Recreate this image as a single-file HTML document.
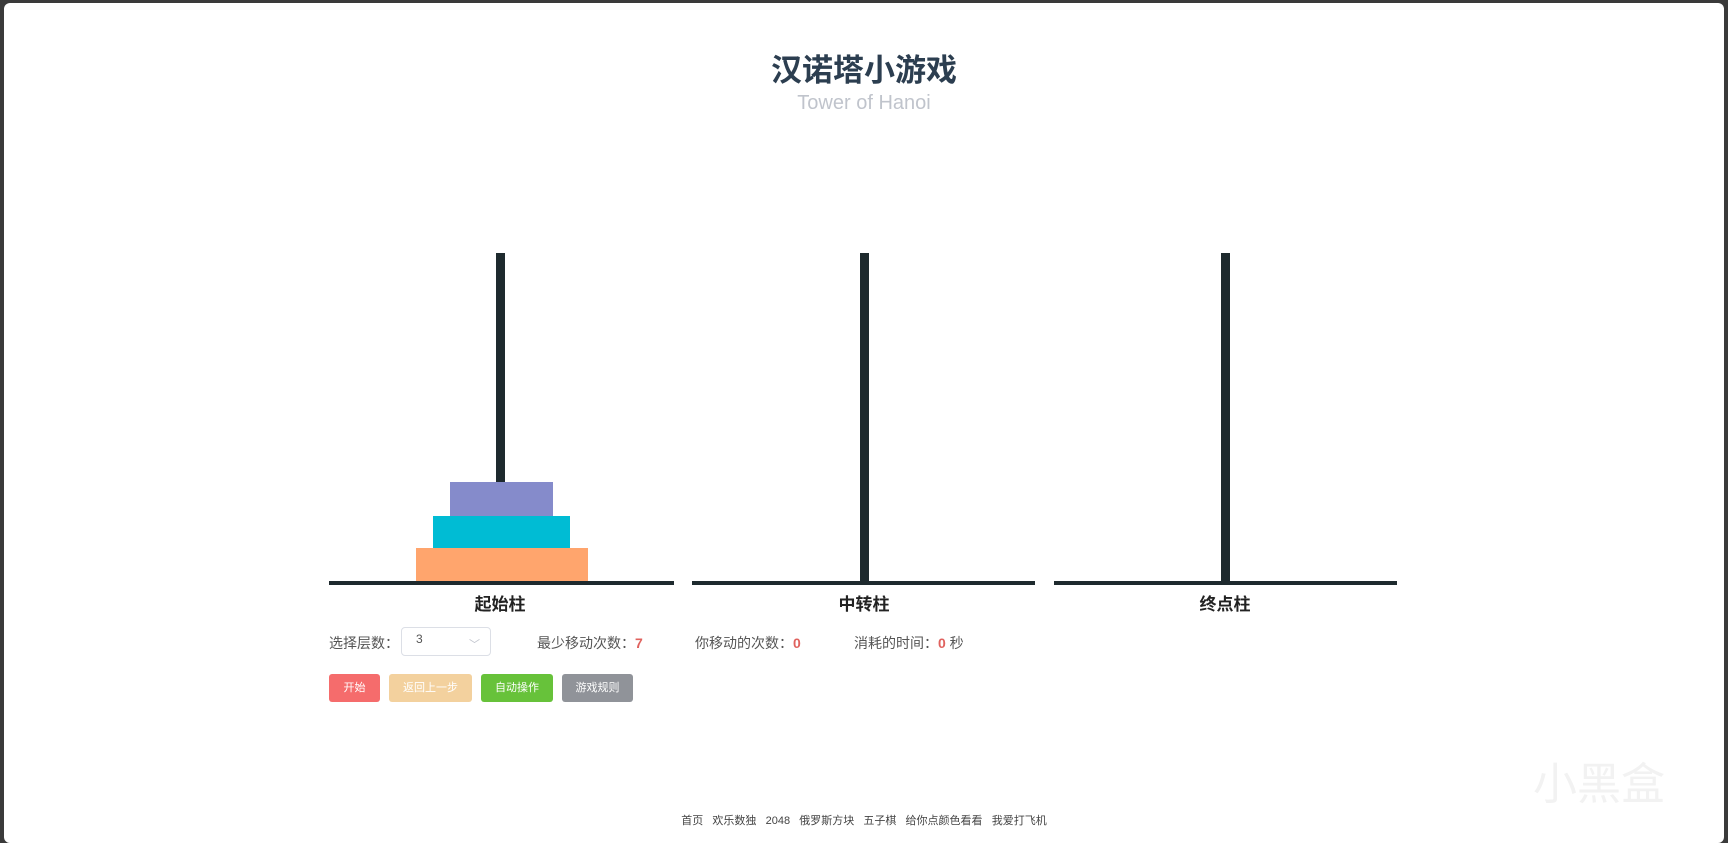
<!DOCTYPE html>
<html><head><meta charset="utf-8"><style>
html,body{margin:0;padding:0;width:1728px;height:835px;background:#3a3a3a;overflow:hidden}
#w{position:absolute;left:4px;top:3px;width:1720px;height:840px;background:#fff;border-radius:6px}
.p{position:absolute;background:#1e2a2e}
.t{position:absolute;white-space:nowrap;font-family:"Liberation Sans","Noto Sans CJK SC",sans-serif}
.b{position:absolute;top:674px;height:28px;border-radius:3px;color:#fff;font-size:11px;line-height:28px;text-align:center;font-family:"Liberation Sans","Noto Sans CJK SC",sans-serif}
</style></head><body>
<div id="w"></div>
<div class="t" style="left:0;width:1728px;text-align:center;top:45px;font-size:31px;font-weight:bold;color:#2c3e50">汉诺塔小游戏</div>
<div class="t" style="left:0;width:1728px;text-align:center;top:92px;font-size:20px;color:#c0c4cc">Tower of Hanoi</div>

<div class="p" style="left:496px;top:253px;width:9px;height:330px"></div>
<div class="p" style="left:860px;top:253px;width:9px;height:330px"></div>
<div class="p" style="left:1221px;top:253px;width:9px;height:330px"></div>
<div class="p" style="left:329px;top:581px;width:345px;height:4px"></div>
<div class="p" style="left:692px;top:581px;width:343px;height:4px"></div>
<div class="p" style="left:1054px;top:581px;width:343px;height:4px"></div>

<div style="position:absolute;left:450px;top:482px;width:103px;height:34px;background:#858bcb"></div>
<div style="position:absolute;left:433px;top:516px;width:137px;height:32px;background:#00bcd4"></div>
<div style="position:absolute;left:416px;top:548px;width:172px;height:33px;background:#ffa56d"></div>

<div class="t" style="left:400px;width:200px;text-align:center;top:590px;font-size:17px;font-weight:bold;color:#222">起始柱</div>
<div class="t" style="left:764px;width:200px;text-align:center;top:590px;font-size:17px;font-weight:bold;color:#222">中转柱</div>
<div class="t" style="left:1125px;width:200px;text-align:center;top:590px;font-size:17px;font-weight:bold;color:#222">终点柱</div>

<div class="t" style="left:329px;top:633px;font-size:14px;color:#555">选择层数：</div>
<div style="position:absolute;left:401px;top:627px;width:88px;height:27px;border:1px solid #dcdfe6;border-radius:4px"></div>
<div class="t" style="left:416px;top:632px;font-size:12px;color:#555">3</div>
<div class="t" style="left:469px;top:636px;font-size:11px;color:#c0c4cc">﹀</div>
<div class="t" style="left:537px;top:633px;font-size:14px;color:#555">最少移动次数：<span style="color:#e0625e;font-weight:bold">7</span></div>
<div class="t" style="left:695px;top:633px;font-size:14px;color:#555">你移动的次数：<span style="color:#e0625e;font-weight:bold">0</span></div>
<div class="t" style="left:854px;top:633px;font-size:14px;color:#555">消耗的时间：<span style="color:#e0625e;font-weight:bold">0</span> 秒</div>

<div class="b" style="left:329px;width:51px;background:#f56c6c">开始</div>
<div class="b" style="left:389px;width:83px;background:#f3d19e">返回上一步</div>
<div class="b" style="left:481px;width:72px;background:#67c23a">自动操作</div>
<div class="b" style="left:562px;width:71px;background:#909399">游戏规则</div>

<div class="t" style="left:0;width:1728px;text-align:center;top:812px;font-size:11px;color:#444">首页&nbsp;&nbsp; 欢乐数独&nbsp;&nbsp; 2048&nbsp;&nbsp; 俄罗斯方块&nbsp;&nbsp; 五子棋&nbsp;&nbsp; 给你点颜色看看&nbsp;&nbsp; 我爱打飞机</div>
<div class="t" style="left:1533px;top:748px;font-size:44px;color:#f2f2f2">小黑盒</div>
</body></html>
